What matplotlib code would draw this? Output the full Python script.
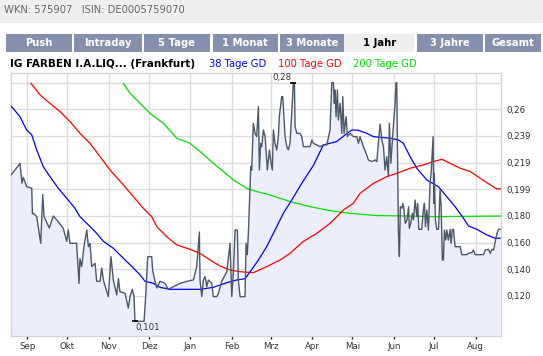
import numpy as np
import matplotlib
matplotlib.use("Agg")
import matplotlib.pyplot as plt
import matplotlib.dates as mdates
from matplotlib.patches import Rectangle
from matplotlib.ticker import FuncFormatter, FixedLocator
import datetime as dt

# ---------------- data ----------------
start_date = dt.date(2007, 8, 20)
end_date = dt.date(2008, 8, 20)

price_days = [
    0, 3, 6.7, 8.2, 9.2, 11.7, 15.5, 16, 16.7, 19.2,
    22.2, 23.7, 24.7, 28.6, 31.6, 35.3, 39, 41.6, 42.8, 44,
    49, 50.8, 51.5, 52.8, 54.5, 56.6, 57.8, 59, 60.3, 62.8,
    64, 66.5, 67.8, 69, 72.7, 74.7, 76.4, 79, 80.2, 81.4,
    85.2, 87.6, 88.9, 90.6, 91.9, 92.6, 99.4, 100.6, 102.1, 105.1,
    105.9, 107.6, 108.9, 111.3, 115, 117.5, 121.3, 126.3, 131.3, 136.2,
    138.7, 140.7, 141.2, 142.5, 143.7, 145, 146.2, 147.4, 150, 151.1,
    153.7, 154.9, 157.4, 161.2, 163.6, 164.9, 166.1, 167.4, 169.1, 169.8,
    171.1, 174.8, 175.6, 176.5, 177.3, 179.1, 179.8, 181, 182.3, 183.5,
    184.8, 185.5, 186.5, 187.3, 188.5, 189.8, 190.5, 191.5, 193, 194.2,
    195.2, 196, 197.2, 198.5, 199.7, 200.4, 202.2, 203, 204, 204.7,
    206, 207.2, 208.4, 209.7, 210.9, 211.7, 212.2, 213.5, 215.9, 217.2,
    218.4, 223.4, 224.7, 225.9, 228.4, 230.9, 233.3, 235.9, 238.3, 239.6,
    240.8, 241.5, 242, 242.8, 243.8, 244.5, 245.8, 247.1, 247.8, 248.8,
    250.3, 251.3, 253.3, 255.7, 258.3, 259.5, 260.7, 263.2, 265.7, 266.9,
    269.5, 272, 273.2, 275.7, 277, 278.2, 279.4, 280.7, 281.9, 282.6,
    283.7, 285.6, 286.9, 287.6, 288.1, 289.4, 290.1, 290.8, 292.1, 292.5,
    293.3, 294.5, 295.8, 297, 297.5, 298.6, 299.8, 300.6, 301.8, 303.1,
    303.8, 304.6, 306.8, 308, 308.8, 309.6, 310.6, 311.8, 313, 313.8,
    315.3, 315.8, 316.2, 317, 318, 319.3, 320.5, 321.3, 322.2, 323,
    323.7, 324.8, 325.5, 326.7, 328, 328.7, 329.7, 330.5, 331.7, 335.5,
    336.7, 340.5, 341.7, 344.2, 345.4, 346.7, 352.9, 354.2, 356.7, 358,
    359.2, 360.4, 361, 361.7, 363, 364.2, 365.3,
]
price_values = [
    0.2108, 0.2145, 0.2195, 0.2045, 0.209, 0.202, 0.2008, 0.1815, 0.182, 0.1795,
    0.1595, 0.196, 0.1795, 0.171, 0.18, 0.1757, 0.1708, 0.161, 0.1695, 0.1595,
    0.1595, 0.1295, 0.148, 0.142, 0.157, 0.1695, 0.157, 0.1595, 0.142, 0.1445,
    0.131, 0.131, 0.141, 0.132, 0.1195, 0.1495, 0.132, 0.1208, 0.133, 0.1232,
    0.122, 0.111, 0.1195, 0.125, 0.1195, 0.101, 0.101, 0.1195, 0.1495, 0.1495,
    0.1385, 0.131, 0.126, 0.131, 0.1295, 0.125, 0.127, 0.1295, 0.131, 0.132,
    0.142, 0.168, 0.132, 0.1195, 0.132, 0.1345, 0.127, 0.132, 0.1295, 0.1195,
    0.1195, 0.122, 0.131, 0.1382, 0.1595, 0.1195, 0.1382, 0.1695, 0.1695, 0.132,
    0.1195, 0.1195, 0.1595, 0.151, 0.167, 0.217, 0.2145, 0.2495, 0.242, 0.2395,
    0.262, 0.2145, 0.2345, 0.232, 0.2445, 0.2395, 0.2295, 0.2145, 0.2295, 0.2195,
    0.2145, 0.2445, 0.2345, 0.2295, 0.2395, 0.2545, 0.2695, 0.2695, 0.252, 0.2395,
    0.232, 0.2295, 0.2345, 0.257, 0.28, 0.28, 0.247, 0.242, 0.242, 0.2395,
    0.232, 0.232, 0.237, 0.2345, 0.2333, 0.232, 0.2333, 0.2333, 0.2445, 0.28,
    0.28, 0.2645, 0.2745, 0.2545, 0.2745, 0.252, 0.2645, 0.242, 0.2695, 0.242,
    0.2545, 0.2395, 0.242, 0.2395, 0.2395, 0.2345, 0.2395, 0.232, 0.2258, 0.222,
    0.2208, 0.222, 0.2208, 0.249, 0.237, 0.232, 0.2145, 0.2245, 0.2095, 0.2495,
    0.2195, 0.247, 0.2645, 0.28, 0.28, 0.167, 0.1495, 0.187, 0.1858, 0.1895,
    0.187, 0.1745, 0.177, 0.187, 0.1708, 0.1745, 0.182, 0.177, 0.192, 0.1795,
    0.1895, 0.17, 0.17, 0.1845, 0.1895, 0.172, 0.1845, 0.1695, 0.2045, 0.212,
    0.2395, 0.1895, 0.212, 0.177, 0.17, 0.17, 0.1995, 0.187, 0.147, 0.147,
    0.1695, 0.162, 0.1695, 0.162, 0.17, 0.1595, 0.17, 0.17, 0.157, 0.157,
    0.151, 0.151, 0.152, 0.1525, 0.1545, 0.151, 0.151, 0.1545, 0.155, 0.152,
    0.155, 0.1545, 0.157, 0.161, 0.167, 0.17, 0.17,
]

gd38_days = [0.5, 6.7, 11.7, 15.5, 19.2, 24.1, 29.1, 35.3, 41.6, 47.8,
             51.5, 57.8, 64, 69, 76.4, 83.9, 91.4, 96.4, 100.1, 106.3,
             111.3, 118.8, 141.2, 151.1, 161.2, 168.6, 174.8, 178.6, 184.8, 191,
             193.5, 198.5, 203.4, 209.7, 217.2, 225.9, 233.3, 243.3, 249.5, 254.5,
             259.2, 265.7, 270.7, 283.2, 289.4, 293.1, 298.1, 303.1, 310.6, 319.2,
             325.5, 331.7, 338, 341.7, 347.9, 355.4, 361.6, 365.3]
gd38_values = [0.262, 0.2545, 0.2445, 0.2408, 0.2295, 0.217, 0.2095, 0.2008, 0.1933, 0.1858,
               0.1795, 0.1733, 0.167, 0.161, 0.1558, 0.1483, 0.141, 0.1358, 0.131, 0.1295,
               0.1265, 0.125, 0.125, 0.1265, 0.13, 0.132, 0.133, 0.1382, 0.147, 0.157,
               0.162, 0.172, 0.182, 0.192, 0.2045, 0.218, 0.2333, 0.2358, 0.2408, 0.2445,
               0.2443, 0.242, 0.2395, 0.2383, 0.237, 0.2345, 0.2245, 0.2158, 0.207, 0.202,
               0.1945, 0.187, 0.1783, 0.1725, 0.17, 0.1658, 0.1633, 0.1633]

gd100_days = [14.9, 21.7, 29.1, 36.6, 44.1, 51.5, 59, 66.5, 74, 83.9,
              91.4, 98.8, 105.1, 108.9, 116.3, 123.8, 133.7, 141.2, 148.7, 156.1,
              163.6, 171.1, 181, 191, 201, 208.4, 218.4, 228.4, 238.3, 248.3,
              255.7, 260.7, 270.7, 280.7, 288.2, 298.1, 308, 315.5, 321.8, 328,
              335.5, 343, 350.5, 358, 362.9, 366]
gd100_values = [0.2795, 0.2708, 0.2645, 0.2583, 0.2508, 0.242, 0.2345, 0.2245, 0.2145, 0.2033,
                0.1945, 0.1858, 0.1795, 0.172, 0.1645, 0.1583, 0.155, 0.152, 0.147, 0.1425,
                0.1395, 0.1382, 0.1375, 0.142, 0.147, 0.152, 0.161, 0.167, 0.1745, 0.1845,
                0.1895, 0.197, 0.2045, 0.2095, 0.212, 0.2158, 0.2183, 0.2208, 0.2225, 0.2195,
                0.2158, 0.2133, 0.2083, 0.2033, 0.2003, 0.2003]

gd200_days = [83.9, 88.9, 96.4, 103.8, 113.8, 123.8, 133.7, 141.2, 151.1, 158.6,
              166.1, 176.1, 183.6, 191, 201, 208.4, 223.4, 238.3, 253.3, 273.2,
              293.1, 318, 366]
gd200_values = [0.2795, 0.272, 0.2645, 0.257, 0.2495, 0.2383, 0.2345, 0.2283, 0.2195, 0.2133,
                0.207, 0.2008, 0.1983, 0.1965, 0.1933, 0.1908, 0.187, 0.184, 0.182, 0.1803,
                0.18, 0.1795, 0.18]

grid_values = [0.12, 0.14, 0.16, 0.18, 0.20, 0.22, 0.24, 0.26, 0.28]
ytick_labels = ["0,120", "0,140", "0,160", "0,180", "0,199", "0,219", "0,239", "0,26", ""]
month_names = ["Jan", "Feb", "Mrz", "Apr", "Mai", "Jun", "Jul", "Aug", "Sep", "Okt", "Nov", "Dez"]

tab_labels = ["Push", "Intraday", "5 Tage", "1 Monat", "3 Monate", "1 Jahr", "3 Jahre", "Gesamt"]
tab_edges = [(6, 71.7), (74, 141.7), (144, 210), (212.7, 277.7), (280.3, 344.3),
             (344.3, 414.3), (416.7, 482.7), (485, 541)]
selected_tab = "1 Jahr"

title_text = "IG FARBEN I.A.LIQ... (Frankfurt)"
header_text = "WKN: 575907   ISIN: DE0005759070"
legend_items = [("38 Tage GD", "#0000ff"), ("100 Tage GD", "#ff0000"), ("200 Tage GD", "#00dd00")]

# ---------------- figure ----------------
W, H = 543, 356
fig = plt.figure(figsize=(W / 100, H / 100), dpi=100)
fig.patch.set_facecolor("white")

def fx(x):
    return x / W

def fy(y):
    return 1 - y / H

# header band
fig.patches.append(Rectangle((0, fy(23)), 1, 1 - fy(23), transform=fig.transFigure,
                             facecolor="#efefef", edgecolor="none", zorder=0))
fig.text(fx(4), fy(10), header_text, fontsize=7.2, color="#666666", va="center", ha="left",
         family="DejaVu Sans")

# tabs
for lab, (x0, x1) in zip(tab_labels, tab_edges):
    sel = lab == selected_tab
    fc = "#efefef" if sel else "#8490ae"
    fig.patches.append(Rectangle((fx(x0), fy(52)), fx(x1 - x0), fy(34) - fy(52),
                                 transform=fig.transFigure, facecolor=fc, edgecolor="none", zorder=0))
    fig.text(fx((x0 + x1) / 2), fy(43.5), lab, fontsize=7.2, fontweight="bold",
             color="black" if sel else "white", ha="center", va="center")

# title row
fig.text(fx(10), fy(64), title_text, fontsize=7.5, fontweight="bold", color="black",
         ha="left", va="center")
legend_x = [209, 278, 353]
for (lab, col), lx in zip(legend_items, legend_x):
    fig.text(fx(lx), fy(64), lab, fontsize=7.2, color=col, ha="left", va="center")

# axes
ax = fig.add_axes([fx(11), fy(336), fx(501) - fx(11), fy(73.3) - fy(336)])
ax.set_facecolor("white")

base = mdates.date2num(start_date)
px = base + np.array(price_days)
pv = np.array(price_values)

ax.fill_between(px, pv, 0.0, color="#eceefb", zorder=1, linewidth=0)
ax.plot(base + np.array(gd200_days), gd200_values, color="#00e000", lw=0.9, zorder=3)
ax.plot(base + np.array(gd100_days), gd100_values, color="#ff0000", lw=0.9, zorder=3)
ax.plot(base + np.array(gd38_days), gd38_values, color="#0000ff", lw=0.9, zorder=3)
ax.plot(px, pv, color="#4d5868", lw=1.0, zorder=4)

ax.set_xlim(base, mdates.date2num(end_date))
ax.set_ylim(0.09, 0.287)

# grid
ax.yaxis.set_major_locator(FixedLocator(grid_values))
ax.yaxis.set_major_formatter(FuncFormatter(lambda v, p: ytick_labels[grid_values.index(round(v, 2))] if round(v, 2) in grid_values else ""))
ax.xaxis.set_major_locator(mdates.MonthLocator())
ax.xaxis.set_major_formatter(FuncFormatter(lambda v, p: month_names[mdates.num2date(v).month - 1]))
ax.grid(True, color="#dcdcdc", lw=1.0, zorder=0)
ax.set_axisbelow(True)
for s in ax.spines.values():
    s.set_color("#d4d4d4")
    s.set_linewidth(1.0)

ax.yaxis.tick_right()
ax.tick_params(axis="y", length=0, pad=4, labelsize=6.2, labelcolor="#333333")
ax.tick_params(axis="x", direction="inout", length=4, width=1, color="#222222",
               pad=2, labelsize=6.2, labelcolor="#333333")

# min / max annotations
imax = int(np.argmax(pv))
imin = int(np.argmin(pv))
ax.plot([px[imax]], [pv[imax]], marker="_", ms=5, mew=1.2, color="black", zorder=5)
ax.plot([px[imin]], [pv[imin]], marker="_", ms=5, mew=1.2, color="black", zorder=5)
ax.annotate(f"{pv[imax]:.2f}".replace(".", ","), (px[imax], pv[imax]), xytext=(-1.5, 0.5),
            textcoords="offset points", ha="right", va="bottom", fontsize=6.2, color="#333333")
ax.annotate(f"{pv[imin]:.3f}".replace(".", ","), (px[imin], pv[imin]), xytext=(0.5, -1.5),
            textcoords="offset points", ha="left", va="top", fontsize=6.2, color="#333333")

fig.savefig("out.png", dpi=100)
